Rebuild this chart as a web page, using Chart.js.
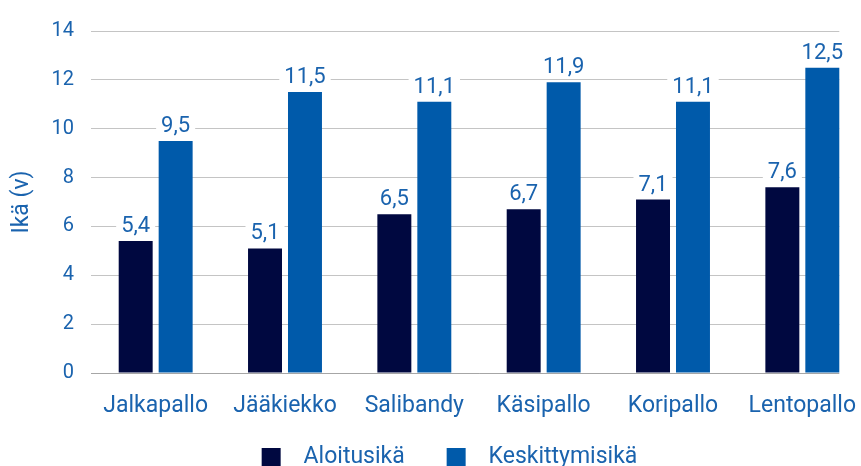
<!DOCTYPE html>
<html>
<head>
<meta charset="utf-8">
<script src="https://cdn.jsdelivr.net/npm/chart.js@4"></script>
<style>
  html, body { margin: 0; padding: 0; background: #fff; overflow: hidden; }
  #wrap { width: 880px; height: 466px; position: relative; }
</style>
</head>
<body>
<div id="wrap"><canvas id="chart"></canvas></div>
<script>
// Lajit ja iät (v)
const categories = ['Jalkapallo', 'Jääkiekko', 'Salibandy', 'Käsipallo', 'Koripallo', 'Lentopallo'];
const aloitusika = [5.4, 5.1, 6.5, 6.7, 7.1, 7.6];
const keskittymisika = [9.5, 11.5, 11.1, 11.9, 11.1, 12.5];
const seriesNames = ['Aloitusikä', 'Keskittymisikä'];

const TEXT_BLUE = '#1a63ae';
const DARK = '#000840';
const BLUE = '#005aaa';
const FONT = 'Roboto, "Noto Sans", sans-serif';

// value labels above bars, on a white box that breaks the grid line
const valueLabels = {
    id: 'valueLabels',
    afterDatasetsDraw(chart) {
        const ctx = chart.ctx;
        ctx.save();
        ctx.font = `22px ${FONT}`;
        ctx.textAlign = 'center';
        ctx.textBaseline = 'alphabetic';
        chart.data.datasets.forEach((ds, i) => {
            const meta = chart.getDatasetMeta(i);
            meta.data.forEach((bar, j) => {
                const text = String(ds.data[j]).replace('.', ',');
                const w = ctx.measureText(text).width;
                const y = bar.y - 9;
                ctx.fillStyle = '#fff';
                ctx.fillRect(bar.x - w / 2 - 5, y - 18, w + 10, 21);
                ctx.fillStyle = TEXT_BLUE;
                ctx.fillText(text, bar.x, y);
            });
        });
        ctx.restore();
    }
};

// grid lines stop at the right edge of the last bar
const clipGrid = {
    id: 'clipGrid',
    beforeDatasetsDraw(chart) {
        const meta = chart.getDatasetMeta(chart.data.datasets.length - 1);
        const last = meta.data[meta.data.length - 1];
        const edge = last.x + last.width / 2;
        const a = chart.chartArea;
        const ctx = chart.ctx;
        ctx.save();
        ctx.fillStyle = '#fff';
        ctx.fillRect(edge, a.top - 2, chart.width - edge, a.bottom - a.top + 4);
        ctx.restore();
    }
};

// legend sits a bit right of the canvas centre
const legendShift = {
    id: 'legendShift',
    afterLayout(chart) {
        chart.legend.left += 16;
        chart.legend.right += 16;
    }
};

new Chart(document.getElementById('chart'), {
    type: 'bar',
    data: {
        labels: categories,
        datasets: [
            { label: seriesNames[0], data: aloitusika, backgroundColor: DARK },
            { label: seriesNames[1], data: keskittymisika, backgroundColor: BLUE }
        ]
    },
    options: {
        responsive: true,
        maintainAspectRatio: false,
        animation: false,
        datasets: {
            bar: { categoryPercentage: 0.618, barPercentage: 0.85 }
        },
        layout: { padding: { top: 31, right: 13, left: 0, bottom: -13 } },
        plugins: {
            tooltip: { enabled: false },
            legend: {
                position: 'bottom',
                labels: {
                    boxWidth: 19,
                    boxHeight: 19,
                    padding: 2,
                    color: TEXT_BLUE,
                    font: { family: FONT, size: 23 },
                    generateLabels(chart) {
                        return chart.data.datasets.map((ds, i) => ({
                            text: '  ' + ds.label + (i === 0 ? '       ' : ''),
                            fillStyle: ds.backgroundColor,
                            strokeStyle: ds.backgroundColor,
                            lineWidth: 0,
                            datasetIndex: i,
                            fontColor: TEXT_BLUE
                        }));
                    }
                }
            }
        },
        scales: {
            x: {
                grid: { display: false, drawTicks: false },
                border: { display: true, color: '#a6a6a6', width: 1 },
                ticks: { color: TEXT_BLUE, font: { family: FONT, size: 23 }, padding: 19 },
                afterFit(scale) { scale.height = 71; }
            },
            y: {
                min: 0,
                max: 14,
                ticks: { stepSize: 2, color: TEXT_BLUE, font: { family: FONT, size: 20 }, padding: 17 },
                grid: { color: '#c4c4c4', drawTicks: false, lineWidth: 1 },
                border: { display: false },
                title: {
                    display: true,
                    text: 'Ikä (v)',
                    color: TEXT_BLUE,
                    font: { family: FONT, size: 23 },
                    padding: { top: 8, bottom: 0 }
                },
                afterFit(scale) { scale.width = 91; }
            }
        }
    },
    plugins: [clipGrid, valueLabels, legendShift]
});
</script>
</body>
</html>
